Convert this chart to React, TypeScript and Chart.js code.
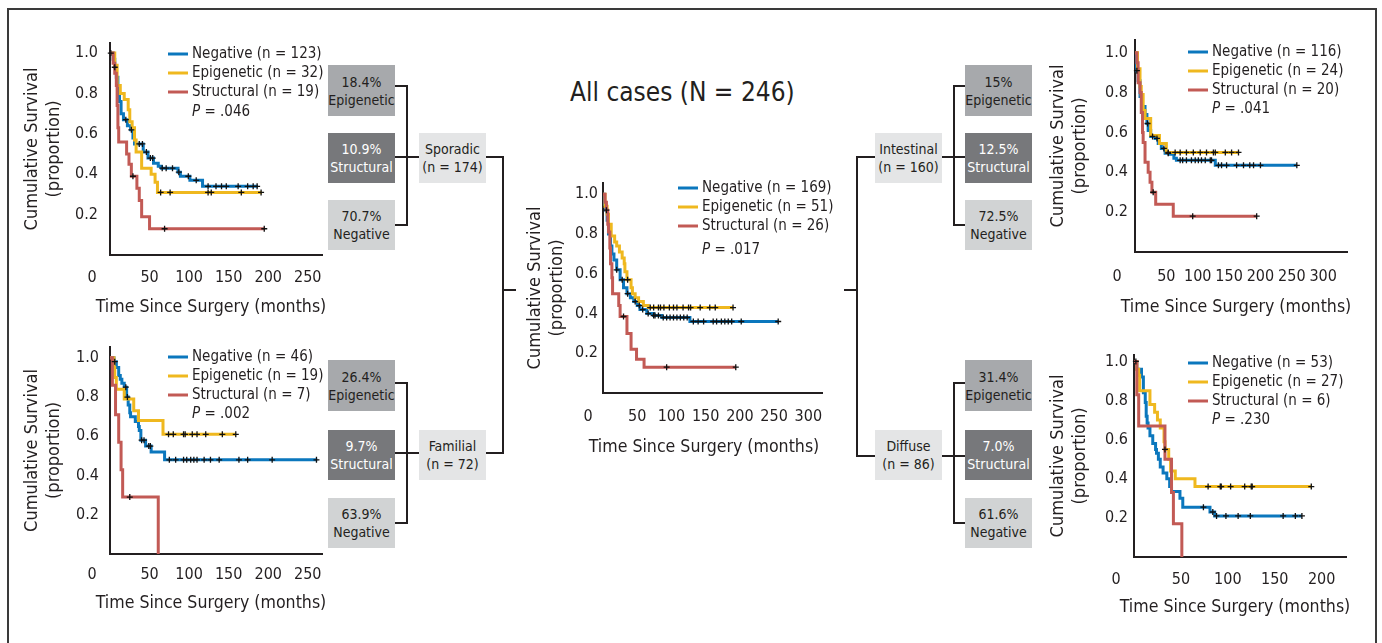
import React, { useEffect, useRef } from 'react';
import { Chart, registerables } from 'chart.js';
Chart.register(...registerables);

const FONT = "'Liberation Sans Narrow', 'Arial Narrow', 'DejaVu Sans Condensed', 'Roboto', sans-serif";
const INK = '#231f20';
const COLORS = ['#0b77bd', '#efb81f', '#c25a55'];
const GROUPS = ['Negative', 'Epigenetic', 'Structural'];
const X_TITLE = 'Time Since Surgery (months)';
const Y_TITLE = ['Cumulative Survival', '(proportion)'];
const Y_TICKS = [0.2, 0.4, 0.6, 0.8, 1.0];
const X_TICKS_250 = [50, 100, 150, 200, 250];
const X_TICKS_300 = [50, 100, 150, 200, 250, 300];
const X_TICKS_200 = [50, 100, 150, 200];

// ---------- Sporadic (n = 174) ----------
const sporadicCounts = [123, 32, 19];
const sporadicP = '.046';
const sporadicNegTime = [0, 4, 6, 8, 10, 12, 14, 17, 22, 26, 29, 31, 42, 48, 55, 61, 65, 86, 89, 101, 117, 187];
const sporadicNegSurv = [1, 0.97, 0.93, 0.88, 0.82, 0.76, 0.7, 0.67, 0.64, 0.62, 0.58, 0.55, 0.51, 0.48, 0.455, 0.44, 0.43, 0.41, 0.39, 0.37, 0.34, 0.34];
const sporadicNegCensor = [1, 6, 20, 27, 37, 41, 46, 51, 54, 66, 71, 79, 87, 99, 109, 124, 134, 141, 147, 162, 174, 181, 186];
const sporadicEpiTime = [0, 6, 9, 13, 18, 23, 25, 28, 31, 33, 40, 52, 57, 60, 192];
const sporadicEpiSurv = [1, 0.94, 0.84, 0.8, 0.77, 0.72, 0.66, 0.63, 0.57, 0.51, 0.43, 0.4, 0.36, 0.31, 0.31];
const sporadicEpiCensor = [64, 76, 124, 128, 166, 191];
const sporadicStrTime = [0, 4, 6, 8, 9, 10, 11, 21, 24, 27, 34, 37, 40, 50, 196];
const sporadicStrSurv = [1, 0.95, 0.9, 0.84, 0.74, 0.63, 0.56, 0.5, 0.45, 0.39, 0.33, 0.27, 0.19, 0.13, 0.13];
const sporadicStrCensor = [29, 69, 195];

// ---------- Familial (n = 72) ----------
const familialCounts = [46, 19, 7];
const familialP = '.002';
const familialNegTime = [0, 5, 8, 11, 13, 15, 18, 21, 23, 25, 26, 32, 36, 37, 39, 45, 52, 69, 262];
const familialNegSurv = [1, 0.98, 0.95, 0.91, 0.89, 0.87, 0.85, 0.8, 0.76, 0.72, 0.7, 0.675, 0.65, 0.63, 0.58, 0.55, 0.52, 0.48, 0.48];
const familialNegCensor = [6, 20, 22, 40, 43, 49, 51, 75, 83, 93, 97, 102, 106, 110, 119, 127, 138, 163, 174, 205, 261];
const familialEpiTime = [0, 5, 6, 8, 18, 30, 36, 67, 159];
const familialEpiSurv = [1, 0.95, 0.9, 0.84, 0.79, 0.73, 0.68, 0.61, 0.61];
const familialEpiCensor = [74, 80, 93, 95, 104, 110, 121, 142, 159];
const familialStrTime = [0, 3, 7, 11, 14, 16, 61];
const familialStrSurv = [1, 0.86, 0.71, 0.57, 0.43, 0.29, 0];
const familialStrCensor = [25];

// ---------- All cases (N = 246) ----------
const allCounts = [169, 51, 26];
const allP = '.017';
const allNegTime = [0, 2, 4, 6, 8, 11, 13, 16, 20, 25, 30, 35, 40, 45, 50, 54, 64, 74, 86, 127, 256];
const allNegSurv = [1, 0.95, 0.92, 0.87, 0.8, 0.74, 0.7, 0.67, 0.62, 0.57, 0.53, 0.5, 0.48, 0.46, 0.44, 0.42, 0.4, 0.39, 0.38, 0.36, 0.36];
const allNegCensor = [5, 20, 28, 36, 47, 53, 58, 66, 74, 76, 81, 88, 93, 98, 103, 108, 113, 118, 123, 132, 139, 147, 161, 166, 173, 178, 183, 188, 202, 256];
const allEpiTime = [0, 3, 6, 8, 12, 17, 20, 24, 28, 31, 32, 35, 41, 43, 47, 52, 59, 66, 190];
const allEpiSurv = [1, 0.94, 0.9, 0.85, 0.79, 0.76, 0.74, 0.71, 0.68, 0.65, 0.61, 0.57, 0.53, 0.5, 0.48, 0.46, 0.44, 0.43, 0.43];
const allEpiCensor = [36, 69, 74, 81, 84, 89, 97, 103, 108, 117, 125, 128, 142, 156, 164, 190];
const allStrTime = [0, 3, 5, 7, 8, 10, 11, 13, 14, 23, 25, 35, 41, 49, 60, 194];
const allStrSurv = [1, 0.96, 0.92, 0.85, 0.81, 0.73, 0.65, 0.58, 0.5, 0.44, 0.385, 0.3, 0.22, 0.17, 0.13, 0.13];
const allStrCensor = [30, 93, 194];

// ---------- Intestinal (n = 160) ----------
const intestinalCounts = [116, 24, 20];
const intestinalP = '.041';
const intestinalNegTime = [0, 1, 3, 5, 8, 11, 16, 19, 21, 25, 32, 37, 42, 48, 56, 62, 66, 128, 258];
const intestinalNegSurv = [1, 0.93, 0.91, 0.86, 0.78, 0.73, 0.69, 0.645, 0.61, 0.58, 0.57, 0.545, 0.52, 0.495, 0.49, 0.47, 0.46, 0.435, 0.435];
const intestinalNegCensor = [3, 20, 28, 35, 46, 53, 72, 76, 82, 90, 96, 101, 106, 112, 120, 122, 133, 138, 146, 162, 173, 183, 189, 200, 258];
const intestinalEpiTime = [0, 4, 8, 10, 13, 16, 25, 39, 50, 166];
const intestinalEpiSurv = [1, 0.92, 0.83, 0.79, 0.71, 0.67, 0.585, 0.545, 0.5, 0.5];
const intestinalEpiCensor = [53, 64, 72, 82, 93, 104, 114, 125, 128, 144, 154, 165];
const intestinalStrTime = [0, 3, 5, 8, 10, 12, 13, 16, 21, 24, 27, 33, 61, 194];
const intestinalStrSurv = [1, 0.95, 0.85, 0.8, 0.7, 0.6, 0.55, 0.45, 0.4, 0.35, 0.3, 0.24, 0.18, 0.18];
const intestinalStrCensor = [29, 92, 194];

// ---------- Diffuse (n = 86) ----------
const diffuseCounts = [53, 27, 6];
const diffuseP = '.230';
const diffuseNegTime = [0, 3, 8, 10, 12, 13, 14, 15, 17, 20, 23, 24, 26, 28, 31, 35, 38, 40, 49, 52, 81, 86, 179];
const diffuseNegSurv = [1, 0.96, 0.92, 0.84, 0.79, 0.72, 0.685, 0.66, 0.62, 0.58, 0.55, 0.53, 0.5, 0.46, 0.43, 0.4, 0.36, 0.335, 0.3, 0.255, 0.23, 0.21, 0.21];
const diffuseNegCensor = [2, 74, 84, 88, 98, 111, 124, 159, 172, 179];
const diffuseEpiTime = [0, 3, 5, 6, 17, 22, 25, 28, 32, 33, 37, 39, 44, 65, 189];
const diffuseEpiSurv = [1, 0.96, 0.93, 0.85, 0.78, 0.74, 0.7, 0.66, 0.59, 0.55, 0.5, 0.44, 0.4, 0.36, 0.36];
const diffuseEpiCensor = [33, 79, 92, 93, 103, 118, 125, 126, 189];
const diffuseStrTime = [0, 3, 5, 33, 40, 42, 51];
const diffuseStrSurv = [1, 0.83, 0.67, 0.5, 0.33, 0.17, 0];
const diffuseStrCensor: number[] = [];

// ---------- Tree boxes ----------
const sporadicPct = ['18.4%', '10.9%', '70.7%'];
const familialPct = ['26.4%', '9.7%', '63.9%'];
const intestinalPct = ['15%', '12.5%', '72.5%'];
const diffusePct = ['31.4%', '7.0%', '61.6%'];
const subgroupLabels = [['Sporadic', '(n = 174)'], ['Familial', '(n = 72)'], ['Intestinal', '(n = 160)'], ['Diffuse', '(n = 86)']];
const mainTitle = 'All cases (N = 246)';

type Series = { time: number[]; surv: number[]; censor: number[] };
type Spec = {
  canvasLeft: number; canvasBottom: number;
  L: number; T: number; R: number; B: number;
  xMax: number; yMax: number; xTicks: number[];
  yTickPad: number; xTickPad: number; zeroDx: number; titleDy: number;
  legDx: number; legDy: number; legGap: number; pGap: number;
  counts: number[]; p: string; series: Series[];
};

const specs: Spec[] = [
  {
    canvasLeft: 21, canvasBottom: 320, L: 110, T: 43, R: 322, B: 255, xMax: 268, yMax: 1.05, xTicks: X_TICKS_250,
    yTickPad: 12, xTickPad: 13, zeroDx: 18, titleDy: 52, legDx: 58, legDy: 11, legGap: 19, pGap: 20,
    counts: sporadicCounts, p: sporadicP,
    series: [
      { time: sporadicNegTime, surv: sporadicNegSurv, censor: sporadicNegCensor },
      { time: sporadicEpiTime, surv: sporadicEpiSurv, censor: sporadicEpiCensor },
      { time: sporadicStrTime, surv: sporadicStrSurv, censor: sporadicStrCensor },
    ],
  },
  {
    canvasLeft: 21, canvasBottom: 620, L: 110, T: 347, R: 322, B: 554, xMax: 268, yMax: 1.055, xTicks: X_TICKS_250,
    yTickPad: 11, xTickPad: 11, zeroDx: 18, titleDy: 49, legDx: 58, legDy: 10, legGap: 19, pGap: 19,
    counts: familialCounts, p: familialP,
    series: [
      { time: familialNegTime, surv: familialNegSurv, censor: familialNegCensor },
      { time: familialEpiTime, surv: familialEpiSurv, censor: familialEpiCensor },
      { time: familialStrTime, surv: familialStrSurv, censor: familialStrCensor },
    ],
  },
  {
    canvasLeft: 524, canvasBottom: 462, L: 603, T: 183, R: 822, B: 393, xMax: 320, yMax: 1.057, xTicks: X_TICKS_300,
    yTickPad: 5, xTickPad: 14, zeroDx: 15, titleDy: 54, legDx: 75, legDy: 5, legGap: 19, pGap: 24,
    counts: allCounts, p: allP,
    series: [
      { time: allNegTime, surv: allNegSurv, censor: allNegCensor },
      { time: allEpiTime, surv: allEpiSurv, censor: allEpiCensor },
      { time: allStrTime, surv: allStrSurv, censor: allStrCensor },
    ],
  },
  {
    canvasLeft: 1047, canvasBottom: 322, L: 1135, T: 40, R: 1347, B: 252, xMax: 338, yMax: 1.064, xTicks: X_TICKS_300,
    yTickPad: 7, xTickPad: 15, zeroDx: 18, titleDy: 55, legDx: 53, legDy: 12, legGap: 19, pGap: 19,
    counts: intestinalCounts, p: intestinalP,
    series: [
      { time: intestinalNegTime, surv: intestinalNegSurv, censor: intestinalNegCensor },
      { time: intestinalEpiTime, surv: intestinalEpiSurv, censor: intestinalEpiCensor },
      { time: intestinalStrTime, surv: intestinalStrSurv, censor: intestinalStrCensor },
    ],
  },
  {
    canvasLeft: 1047, canvasBottom: 622, L: 1134, T: 355, R: 1346, B: 557, xMax: 226, yMax: 1.033, xTicks: X_TICKS_200,
    yTickPad: 6, xTickPad: 13, zeroDx: 18, titleDy: 50, legDx: 54, legDy: 8, legGap: 19, pGap: 19,
    counts: diffuseCounts, p: diffuseP,
    series: [
      { time: diffuseNegTime, surv: diffuseNegSurv, censor: diffuseNegCensor },
      { time: diffuseEpiTime, surv: diffuseEpiSurv, censor: diffuseEpiCensor },
      { time: diffuseStrTime, surv: diffuseStrSurv, censor: diffuseStrCensor },
    ],
  },
];

function survAt(time: number[], surv: number[], t: number) {
  let v = surv[0];
  for (let i = 0; i < time.length; i++) {
    if (time[i] <= t) v = surv[i];
    else break;
  }
  return v;
}

const PAD_TOP = 25;
const PAD_RIGHT = 25;

function KMChart({ spec }: { spec: Spec }) {
  const ref = useRef<HTMLCanvasElement>(null);
  const left = spec.canvasLeft;
  const top = spec.T - PAD_TOP;
  const width = spec.R + PAD_RIGHT - left;
  const height = spec.canvasBottom - top;
  const yAxisW = spec.L - left;
  const xAxisH = spec.canvasBottom - spec.B;

  useEffect(() => {
    const c = ref.current;
    if (!c) return;
    const datasets: any[] = [];
    spec.series.forEach((s, i) => {
      datasets.push({
        type: 'line',
        label: GROUPS[i],
        data: s.time.map((t, j) => ({ x: t, y: s.surv[j] })),
        borderColor: COLORS[i],
        backgroundColor: COLORS[i],
        borderWidth: 3,
        stepped: 'before',
        pointRadius: 0,
        fill: false,
        order: 3 - i,
      });
    });
    spec.series.forEach((s) => {
      datasets.push({
        type: 'line',
        label: 'censored',
        data: s.censor.map((t) => ({ x: t, y: survAt(s.time, s.surv, t) })),
        showLine: false,
        pointStyle: 'cross',
        pointRadius: 3,
        pointBorderWidth: 1.3,
        pointBorderColor: '#111',
        borderColor: '#111',
        backgroundColor: '#111',
        order: -1,
        clip: false,
      });
    });

    const overlay = {
      id: 'kmOverlay',
      afterDraw(chart: any) {
        const ctx = chart.ctx;
        const xs = chart.scales.x;
        const ys = chart.scales.y;
        const area = chart.chartArea;
        ctx.save();
        ctx.fillStyle = INK;
        ctx.textBaseline = 'middle';
        // origin label
        ctx.font = `16px ${FONT}`;
        ctx.textAlign = 'center';
        ctx.fillText('0', ys.right - spec.zeroDx, xs.top + spec.xTickPad + 16 * 1.2 / 2);
        // x axis title (wider than the plot, so drawn here without width clamp)
        ctx.font = `17.6px ${FONT}`;
        ctx.fillText(X_TITLE, area.left + 101, area.bottom + spec.titleDy);
        // legend
        ctx.textAlign = 'left';
        ctx.font = `15px ${FONT}`;
        const lx = area.left + spec.legDx;
        let y = area.top + spec.legDy;
        GROUPS.forEach((g, i) => {
          ctx.strokeStyle = COLORS[i];
          ctx.lineWidth = 3;
          ctx.beginPath();
          ctx.moveTo(lx, y);
          ctx.lineTo(lx + 20, y);
          ctx.stroke();
          ctx.fillText(`${g} (n = ${spec.counts[i]})`, lx + 24, y);
          if (i < GROUPS.length - 1) y += spec.legGap;
        });
        y += spec.pGap;
        ctx.font = `italic 15px ${FONT}`;
        ctx.fillText('P', lx + 24, y);
        const w = ctx.measureText('P').width;
        ctx.font = `15px ${FONT}`;
        ctx.fillText(` = ${spec.p}`, lx + 24 + w, y);
        ctx.restore();
      },
    };

    const chart = new Chart(c, {
      type: 'line',
      data: { datasets },
      options: {
        responsive: false,
        animation: false,
        events: [],
        layout: { padding: { top: PAD_TOP, right: PAD_RIGHT, left: 0, bottom: 0 } },
        plugins: { legend: { display: false }, tooltip: { enabled: false } },
        scales: {
          x: {
            type: 'linear',
            min: 0,
            max: spec.xMax,
            afterFit: (s: any) => { s.height = xAxisH; },
            afterBuildTicks: (s: any) => { s.ticks = spec.xTicks.map((v) => ({ value: v })); },
            grid: { display: false, drawTicks: false },
            border: { display: true, color: INK, width: 2 },
            ticks: {
              padding: spec.xTickPad,
              color: INK,
              font: { family: FONT, size: 16 },
              maxRotation: 0,
              autoSkip: false,
              callback: (v: any) => String(v),
            },
            title: { display: false },
          },
          y: {
            type: 'linear',
            min: 0,
            max: spec.yMax,
            afterFit: (s: any) => { s.width = yAxisW; },
            afterBuildTicks: (s: any) => { s.ticks = Y_TICKS.map((v) => ({ value: v })); },
            grid: { display: false, drawTicks: false },
            border: { display: true, color: INK, width: 2 },
            ticks: {
              padding: spec.yTickPad,
              color: INK,
              font: { family: FONT, size: 16 },
              callback: (v: any) => Number(v).toFixed(1),
            },
            title: {
              display: true,
              text: Y_TITLE,
              color: INK,
              font: { family: FONT, size: 18, lineHeight: 1.25 },
              padding: 0,
            },
          },
        },
      },
      plugins: [overlay],
    } as any);
    return () => chart.destroy();
  }, []);

  return (
    <canvas
      ref={ref}
      width={width}
      height={height}
      style={{ position: 'absolute', left, top, width, height }}
    />
  );
}

const BOX_FILL = ['#a7a9ac', '#77787b', '#d1d3d4'];
const BOX_TEXT = [INK, '#ffffff', INK];
const CAT_FILL = '#e4e5e6';

function Box({ x, y, w, h, fill, color, lines }: { x: number; y: number; w: number; h: number; fill: string; color: string; lines: string[] }) {
  return (
    <div
      style={{
        position: 'absolute', left: x, top: y, width: w, height: h, background: fill, color,
        display: 'flex', flexDirection: 'column', alignItems: 'center', justifyContent: 'center',
        fontFamily: FONT, fontSize: 14, lineHeight: '18px', textAlign: 'center',
      }}
    >
      {lines.map((l, i) => <div key={i}>{l}</div>)}
    </div>
  );
}

function Group({ molX, catX, tops, catTop, pct, cat }: { molX: number; catX: number; tops: number[]; catTop: number; pct: string[]; cat: string[] }) {
  const order = [1, 2, 0]; // Epigenetic, Structural, Negative
  return (
    <>
      {order.map((g, i) => (
        <Box key={i} x={molX} y={tops[i]} w={67} h={i === 0 ? 51 : 50} fill={BOX_FILL[i]} color={BOX_TEXT[i]} lines={[pct[i], GROUPS[g]]} />
      ))}
      <Box x={catX} y={catTop} w={67} h={50} fill={CAT_FILL} color={INK} lines={cat} />
    </>
  );
}

export default function App() {
  const lines: [number, number, number, number][] = [
    // left top bracket
    [396, 86, 407, 86], [407, 86, 407, 225], [395, 225, 407, 225], [395, 157, 419, 157],
    // left bottom bracket
    [396, 383, 407, 383], [407, 383, 407, 523], [395, 523, 407, 523], [395, 453, 419, 453],
    // left trunk
    [486, 157, 503, 157], [503, 157, 503, 453], [486, 453, 503, 453], [503, 290, 515, 290],
    // right top bracket
    [954, 86, 965, 86], [954, 86, 954, 225], [954, 225, 965, 225], [942, 157, 965, 157],
    // right bottom bracket
    [954, 383, 965, 383], [954, 383, 954, 523], [954, 523, 965, 523], [942, 456, 965, 456],
    // right trunk
    [857, 157, 875, 157], [857, 157, 857, 456], [857, 456, 875, 456], [845, 290, 857, 290],
  ];
  return (
    <div style={{ position: 'absolute', left: 0, top: 0, width: 1382, height: 643, background: '#fff', overflow: 'hidden', color: INK }}>
      <div style={{ position: 'absolute', left: 7, top: 8, width: 1370, height: 700, boxSizing: 'border-box', borderTop: '2px solid #3a3a3a', borderLeft: '2px solid #3a3a3a', borderRight: '2px solid #3a3a3a' }} />
      <svg width={1382} height={643} style={{ position: 'absolute', left: 0, top: 0 }}>
        {lines.map((l, i) => (
          <line key={i} x1={l[0]} y1={l[1]} x2={l[2]} y2={l[3]} stroke={INK} strokeWidth={2} strokeLinecap="square" />
        ))}
      </svg>
      <Group molX={328} catX={419} tops={[65, 133, 200]} catTop={133} pct={sporadicPct} cat={subgroupLabels[0]} />
      <Group molX={328} catX={419} tops={[360, 430, 498]} catTop={430} pct={familialPct} cat={subgroupLabels[1]} />
      <Group molX={965} catX={875} tops={[65, 133, 200]} catTop={133} pct={intestinalPct} cat={subgroupLabels[2]} />
      <Group molX={965} catX={875} tops={[360, 430, 498]} catTop={430} pct={diffusePct} cat={subgroupLabels[3]} />
      <div style={{ position: 'absolute', left: 570, top: 76, fontFamily: FONT, fontSize: 26, lineHeight: '32px', whiteSpace: 'nowrap' }}>{mainTitle}</div>
      {specs.map((s, i) => <KMChart key={i} spec={s} />)}
    </div>
  );
}
